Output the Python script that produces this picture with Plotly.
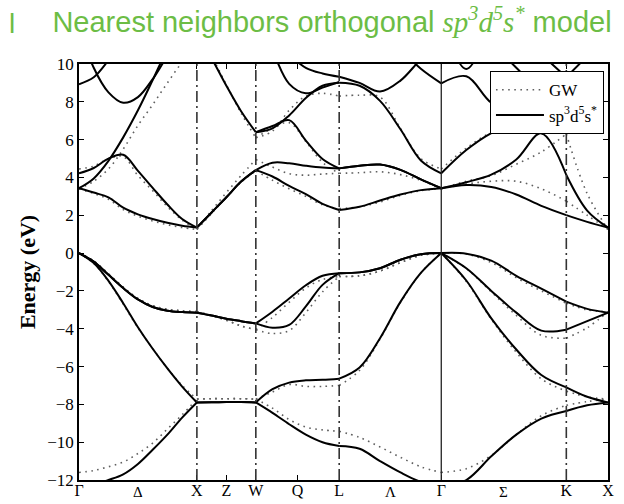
import plotly.graph_objects as go

# ---------------- k-path ----------------
POINT_LABELS = ['Γ', 'X', 'W', 'L', 'Γ', 'K', 'X']
POINT_K = [0.0, 1.0, 1.5, 2.2071, 3.0731, 4.1338, 4.4874]
MID_TICK_LABELS = ['Z', 'Q']
MID_TICK_K = [1.25, 1.8536]
GREEK_LABELS = ['Δ', 'Λ', 'Σ']
GREEK_K = [0.5, 2.64, 3.60]
DASHDOT_K = [1.0, 1.5, 2.2071, 4.1338]
SOLID_K = [3.0731]

# sampling fractions along each segment (Γ-X, X-W, W-L, L-Γ, Γ-K, K-X)
SEG_FRACS = [[0, .125, .25, .375, .5, .625, .75, .875, 1],
             [.25, .5, .75, 1],
             [.2, .4, .6, .8, 1],
             [.2, .4, .6, .8, 1],
             [.2, .4, .6, .8, 1],
             [.5, 1]]

N = None
# ---------------- sp3d5s* (solid) bands, eV ----------------
TB_V1 = [-12.35, -12.25, -12.0, -11.7, -11.15, -10.4, -9.6, -8.7, -7.9,
         -7.89, -7.88, -7.88, -7.9,
         -8.45, -9.05, -9.6, -10.0, -10.2,
         -10.35, -11.0, -11.6, -12.1, -12.35,
         -12.0, -10.75, -9.6, -8.75, -8.35,
         -8.05, -7.9]
TB_V2 = [0, -0.53, -1.47, -2.65, -3.92, -5.06, -6.1, -7.06, -7.9,
         -7.89, -7.88, -7.88, -7.9,
         -7.2, -6.85, -6.73, -6.7, -6.64,
         -6.05, -4.5, -2.58, -1.05, 0,
         -1.45, -3.45, -5.1, -6.45, -7.1,
         -7.6, -7.9]
TB_V3 = [0, -0.45, -1.15, -1.85, -2.45, -2.85, -3.05, -3.12, -3.15,
         -3.3, -3.47, -3.6, -3.72,
         -3.95, -3.8, -2.82, -1.68, -1.06,
         -1.02, -0.8, -0.35, -0.06, 0,
         -0.8, -2.0, -3.15, -4.1, -4.05,
         -3.6, -3.15]
TB_V4 = [0, -0.45, -1.15, -1.85, -2.45, -2.85, -3.05, -3.12, -3.15,
         -3.3, -3.47, -3.6, -3.72,
         -3.1, -2.4, -1.7, -1.2, -1.06,
         -1.02, -0.8, -0.35, -0.06, 0,
         -0.03, -0.4, -1.2, -1.88, -2.57,
         -2.95, -3.15]
TB_C5 = [3.43, 3.2, 2.95, 2.4, 2.05, 1.8, 1.6, 1.45, 1.35,
         2.15, 2.95, 3.78, 4.39,
         4.05, 3.55, 3.12, 2.6, 2.28,
         2.45, 2.78, 3.1, 3.33, 3.43,
         3.6, 3.5, 3.1, 2.5, 2.01,
         1.65, 1.35]
TB_C6 = [4.22, 4.5, 5.0, 5.2, 4.35, 3.45, 2.57, 1.8, 1.35,
         2.15, 2.95, 3.78, 4.39,
         4.78, 4.75, 4.62, 4.52, 4.48,
         4.62, 4.68, 4.4, 3.9, 3.43,
         3.75, 4.15, 4.95, 6.33, 4.13,
         2.25, 1.35]
TB_C7 = [3.43, 3.95, 4.88, 6.12, 7.55, 9.15, 10.8, 12.2, N,
         N, N, N, N,
         N, N, N, N, N,
         N, N, N, N, N,
         N, N, N, N, N,
         N, N]
TB_C8 = [12.0, 9.8, 8.5, 7.95, 8.25, 9.2, 10.4, 11.3, 11.6,
         10.3, 8.85, 7.5, 6.39,
         6.6, 7.28, 8.2, 8.85, 9.01,
         8.85, 8.05, 6.55, 4.9, 4.22,
         5.45, 6.35, 6.9, 6.75, 7.6,
         N, N]
TB_C9 = [N, N, N, N, N, N, N, N, N,
         N, N, N, 6.39,
         6.72, 7.03, 5.95, 4.98, 4.48,
         4.62, 4.68, 4.4, 3.9, 3.43,
         N, N, N, N, N,
         N, N]
TB_C10 = [8.93, 9.3, 10.2, 11.3, N, N, N, N, N,
          N, N, N, N,
          N, N, N, N, N,
          N, N, 10.8, 9.75, 8.98,
          9.35, 7.95, 7.4, 7.2, 7.5,
          N, N]
TB_C11 = [N, N, N, N, N, N, N, N, N,
          N, N, N, 12.5,
          10.7, 8.95, 8.45, 8.75, 9.05,
          N, N, N, N, N,
          N, N, N, N, N,
          N, N]
TB_C12 = [N, N, N, N, N, N, N, N, N,
          N, N, N, N,
          N, 10.5, 9.8, 9.5, 9.33,
          9.0, 8.54, 9.12, 10.25, 11.2,
          N, N, N, N, N,
          N, N]
TB_C13 = [N, N, N, N, N, N, N, N, N,
          N, N, N, N,
          N, N, N, N, N,
          N, N, N, N, 12.3,
          9.74, 12.3, N, N, N,
          N, N]
TB_C14 = [N, N, N, N, N, N, N, N, N,
          N, N, N, N,
          N, N, N, N, N,
          N, N, N, N, N,
          N, N, 11.6, 10.5, 9.3,
          10.4, 11.4]
TB_C15 = [N, N, N, N, N, N, N, N, N,
          N, N, N, N,
          N, N, N, N, N,
          N, N, N, N, N,
          N, 11.2, 9.8, 8.6, 8.0,
          N, N]

# ---------------- GW (dotted) bands, eV ----------------
GW_V1 = [-11.6, -11.5, -11.3, -11.05, -10.6, -10.05, -9.3, -8.55, -7.72,
         -7.7, -7.7, -7.7, -7.72,
         -8.2, -8.8, -9.2, -9.35, -9.42,
         -9.75, -10.25, -10.8, -11.3, -11.6,
         -11.4, -10.7, -9.6, -8.6, -8.05,
         -7.85, -7.72]
GW_V2 = [0, -0.55, -1.5, -2.7, -3.95, -5.05, -6.1, -7.0, -7.72,
         -7.7, -7.7, -7.7, -7.72,
         -7.35, -6.95, -7.05, -7.05, -7.0,
         -6.2, -4.55, -2.62, -1.05, 0,
         -1.5, -3.5, -5.25, -6.65, -7.3,
         -7.6, -7.72]
GW_V3 = [0, -0.42, -1.1, -1.8, -2.4, -2.78, -2.97, -3.05, -3.1,
         -3.3, -3.55, -3.85, -4.05,
         -4.25, -4.1, -3.15, -2.05, -1.24,
         -1.2, -0.95, -0.5, -0.12, 0,
         -0.82, -2.05, -3.3, -4.35, -4.5,
         -3.95, -3.1]
GW_V4 = [0, -0.42, -1.1, -1.8, -2.4, -2.78, -2.97, -3.05, -3.1,
         -3.3, -3.55, -3.85, -4.05,
         -3.4, -2.6, -1.85, -1.4, -1.24,
         -1.2, -0.95, -0.5, -0.12, 0,
         -0.05, -0.5, -1.3, -2.0, -2.65,
         -3.0, -3.1]
GW_C5 = [3.4, 3.15, 2.85, 2.3, 1.95, 1.7, 1.5, 1.35, 1.25,
         2.1, 2.95, 3.75, 4.35,
         3.85, 3.4, 3.0, 2.55, 2.35,
         2.45, 2.7, 3.05, 3.3, 3.4,
         3.65, 3.8, 3.8, 3.4, 2.75,
         2.0, 1.25]
GW_C6 = [4.45, 4.6, 5.0, 5.1, 4.1, 3.3, 2.45, 1.75, 1.25,
         2.25, 3.2, 4.1, 4.95,
         4.55, 4.2, 4.12, 4.18, 4.22,
         4.25, 4.3, 4.15, 3.85, 3.4,
         3.8, 4.1, 4.7, 5.35, 6.3,
         3.15, 1.25]
GW_C7 = [3.4, 3.8, 4.45, 5.5, 6.75, 7.85, 9.0, 10.1, 11.0,
         N, N, N, N,
         N, N, N, N, N,
         N, N, N, N, N,
         N, N, N, N, N,
         N, N]
GW_C8 = [N, N, N, N, N, N, N, N, 11.6,
         10.4, 8.9, 7.4, 6.1,
         6.45, 7.55, 8.3, 8.45, 8.3,
         8.35, 8.25, 6.6, 5.0, 4.45,
         5.55, 6.35, 6.5, 6.5, 6.35,
         N, N]
GW_C9 = [N, N, N, N, N, N, N, N, N,
         N, N, N, 6.1,
         6.6, 6.9, 5.9, 4.8, 4.22,
         N, N, N, N, N,
         N, N, N, N, N,
         N, N]

TB_BANDS = [TB_V1, TB_V2, TB_V3, TB_V4, TB_C5, TB_C6, TB_C7, TB_C8,
            TB_C9, TB_C10, TB_C11, TB_C12, TB_C13, TB_C14, TB_C15]
GW_BANDS = [GW_V1, GW_V2, GW_V3, GW_V4, GW_C5, GW_C6, GW_C7, GW_C8, GW_C9]

Y_TICKS = list(range(-12, 11, 2))

# ---------------- build grid ----------------
K_GRID = []
SEG_IDX = []
for s, fr in enumerate(SEG_FRACS):
    a, b = POINT_K[s], POINT_K[s + 1]
    start = len(K_GRID) - 1 if s > 0 else 0
    for f in fr:
        K_GRID.append(a + f * (b - a))
    SEG_IDX.append((start, len(K_GRID) - 1))


def build(bands):
    xs, ys = [], []
    for band in bands:
        for i0, i1 in SEG_IDX:
            rx, ry = [], []
            for i in range(i0, i1 + 1):
                v = band[i]
                if v is None:
                    if len(rx) >= 2:
                        xs += rx + [None]
                        ys += ry + [None]
                    rx, ry = [], []
                else:
                    rx.append(K_GRID[i])
                    ry.append(v)
            if len(rx) >= 2:
                xs += rx + [None]
                ys += ry + [None]
    return xs, ys


gx, gy = build(GW_BANDS)
tx, ty = build(TB_BANDS)

fig = go.Figure()
fig.add_trace(go.Scatter(x=gx, y=gy, mode='lines', name='GW',
                         line=dict(color='#606060', width=1.6, dash='1.6px,4.5px', shape='spline', smoothing=1),
                         connectgaps=False))
fig.add_trace(go.Scatter(x=tx, y=ty, mode='lines', name='sp<sup>3</sup>d<sup>5</sup>s<sup>*</sup>',
                         line=dict(color='black', width=2, shape='spline', smoothing=1),
                         connectgaps=False))

for k in DASHDOT_K:
    fig.add_shape(type='line', xref='x', yref='paper', x0=k, x1=k, y0=0, y1=1,
                  line=dict(color='#333333', width=1.6, dash='11px,4px,2px,4px'), layer='above')
for k in SOLID_K:
    fig.add_shape(type='line', xref='x', yref='paper', x0=k, x1=k, y0=0, y1=1,
                  line=dict(color='#222222', width=1.3), layer='above')

tickvals = POINT_K[:2] + [MID_TICK_K[0], POINT_K[2], MID_TICK_K[1]] + POINT_K[3:]
ticktext = POINT_LABELS[:2] + [MID_TICK_LABELS[0], POINT_LABELS[2], MID_TICK_LABELS[1]] + POINT_LABELS[3:]

serif = 'Liberation Serif'
for lab, k in zip(GREEK_LABELS, GREEK_K):
    fig.add_annotation(x=k, y=0, xref='x', yref='paper', text=lab, showarrow=False,
                       yanchor='top', yshift=-2, font=dict(family=serif, size=15, color='black'))

fig.add_annotation(x=(12 - 79) / 529, y=(480 - 24) / 416, xref='paper', yref='paper', text='l',
                   showarrow=False, xanchor='center', yanchor='middle',
                   font=dict(family='Liberation Sans', size=28, color='#6cbd45'))

fig.update_layout(
    width=624, height=504,
    margin=dict(l=79, r=16, t=64, b=24),
    paper_bgcolor='white', plot_bgcolor='white',
    title=dict(text="Nearest neighbors orthogonal <span style='font-family:Liberation Serif'><i>sp<sup>3</sup>d<sup>5</sup>s<sup>*</sup></i></span> model",
               x=332 / 624, xanchor='center', y=1 - 22 / 504, yanchor='middle',
               font=dict(family='Liberation Sans', size=29, color='#6cbd45')),
    xaxis=dict(range=[POINT_K[0], POINT_K[-1]], tickvals=tickvals, ticktext=ticktext,
               ticks='inside', ticklen=5, tickwidth=1, tickcolor='black',
               showline=True, linecolor='black', linewidth=1.5, mirror='ticks',
               showgrid=False, zeroline=False, automargin=False, ticklabelstandoff=-5,
               tickfont=dict(family=serif, size=16, color='black')),
    yaxis=dict(range=[-12, 10], tickvals=Y_TICKS,
               ticks='inside', ticklen=5, tickwidth=1, tickcolor='black',
               showline=True, linecolor='black', linewidth=1.5, mirror='ticks',
               showgrid=False, zeroline=False, automargin=False,
               tickfont=dict(family=serif, size=17, color='black'),
               title=dict(text='<b>Energy (eV)</b>', font=dict(family=serif, size=22, color='black'), standoff=6)),
    legend=dict(x=0.992, y=0.983, xanchor='right', yanchor='top', bgcolor='white',
                bordercolor='black', borderwidth=1.2, itemwidth=48,
                font=dict(family=serif, size=17, color='black'), tracegroupgap=0),
    showlegend=True,
)

fig.write_html('out.html')
